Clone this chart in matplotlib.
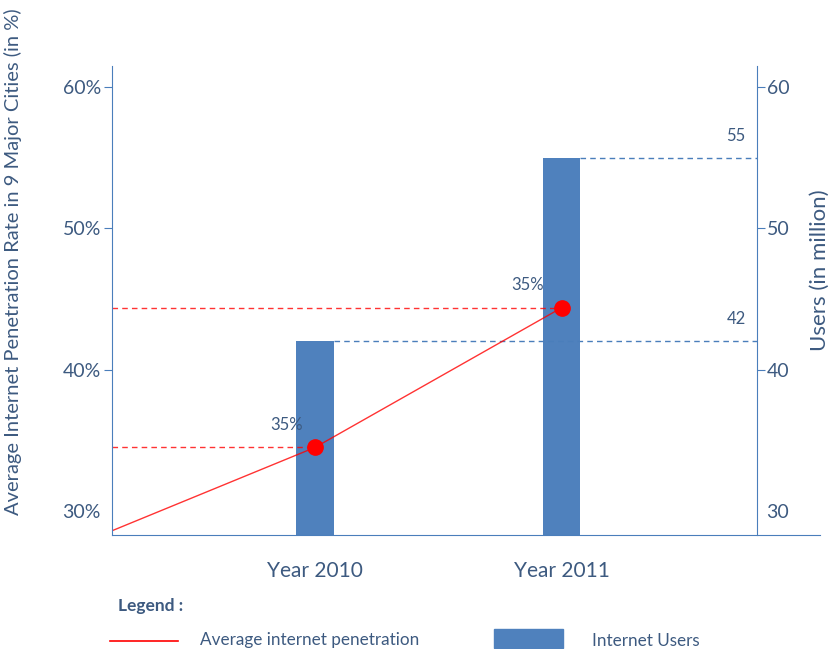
import numpy as np
import matplotlib.pyplot as plt
from matplotlib.lines import Line2D
from matplotlib.patches import Rectangle

plt.rcParams['font.family'] = ['Lato', 'DejaVu Sans']

# data
years = ["Year 2010", "Year 2011"]
year_x = [0, 1]
users = [42, 55]                      # internet users, millions
user_labels = ["42", "55"]
line_x = [-0.822, 0, 1]               # line starts at the left axis
penetration = [28.6, 34.5, 44.4]      # average penetration, %
point_labels = ["35%", "35%"]
pct_ticks = [30, 40, 50, 60]
user_ticks = [30, 40, 50, 60]

txt_col = "#3d5a80"
ax_col = "#4a7ebb"
bar_col = "#4f81bd"
red = "#ff0000"

fig = plt.figure(figsize=(8.34, 6.49), dpi=100)
ax = fig.add_axes([112/834, 1-535/649, (820-112)/834, (535-66)/649])
ax2 = ax.twinx()

xmin, xmax = -0.822, 2.045
right_x = 1.789
ylo, yhi = 28.3, 61.5
bar_w = 0.15

ax.set_xlim(xmin, xmax)
ax.set_ylim(ylo, yhi)
ax2.set_ylim(ylo, yhi)

# bars on the right (users) axis
ax2.bar(year_x, users, width=bar_w, color=bar_col, zorder=2)
ax2.hlines(users, [x + bar_w/2 for x in year_x], right_x, colors=ax_col,
           linestyles=(0, (4, 3)), lw=1.0)
for x, v, s in zip(year_x, users, user_labels):
    ax2.annotate(s, (right_x, v), xytext=(-8, 16), textcoords="offset points",
                 ha="right", va="center", fontsize=12, color=txt_col)

# penetration line on the left axis, drawn above the bars
ax.set_zorder(ax2.get_zorder() + 1)
ax.patch.set_visible(False)
ax.plot(line_x, penetration, color=red, lw=1.0, alpha=0.8)
ax.plot(line_x[1:], penetration[1:], "o", color=red, ms=11)
ax.hlines(penetration[1:], xmin, line_x[1:], colors=red, alpha=0.8,
          linestyles=(0, (4, 3)), lw=1.0)
for x, v, s, dx in zip(line_x[1:], penetration[1:], point_labels, [-9, -13]):
    ax.annotate(s, (x, v), xytext=(dx, 16), textcoords="offset points",
                ha="right", va="center", fontsize=12, color=txt_col)

# spines
for s in ["top", "right"]:
    ax.spines[s].set_visible(False)
ax.spines["left"].set_color(ax_col)
ax.spines["bottom"].set_color(ax_col)
for s in ["top", "left", "bottom"]:
    ax2.spines[s].set_visible(False)
ax2.spines["right"].set_position(("data", right_x))
ax2.spines["right"].set_color(ax_col)

# ticks
ax.set_yticks(pct_ticks)
ax.set_yticklabels([f"{t}%" for t in pct_ticks])
ax.tick_params(axis="y", direction="out", length=6, color=ax_col,
               labelcolor=txt_col, labelsize=14, pad=2)
ax.yaxis.get_major_ticks()[0].tick1line.set_visible(False)
ax2.set_yticks(user_ticks)
ax2.tick_params(axis="y", direction="out", length=6, color=ax_col,
                labelcolor=txt_col, labelsize=14, pad=1)
ax2.yaxis.get_major_ticks()[0].tick2line.set_visible(False)
ax.set_xticks(year_x)
ax.set_xticklabels(years)
ax.tick_params(axis="x", length=0, labelcolor=txt_col, labelsize=15, pad=19)

ax.set_ylabel("Average Internet Penetration Rate in 9 Major Cities (in %)",
              color=txt_col, fontsize=14.5)
ax.yaxis.set_label_coords(-90/708, 0.582)
ax2.set_ylabel("Users (in million)", color=txt_col, fontsize=16)
ax2.yaxis.set_label_coords(0.985, 0.565)

# legend underneath
fig.text(118/834, 1-606/649, "Legend :", fontsize=12.5, fontweight="bold",
         color=txt_col, va="center")
fig.add_artist(Line2D([110/834, 178/834], [1-641/649, 1-641/649], color=red, lw=1.2))
fig.text(200/834, 1-640/649, "Average internet penetration", fontsize=12.3,
         color=txt_col, va="center")
fig.add_artist(Rectangle((494/834, 1-648/649), 69/834, 19/649, color=bar_col))
fig.text(592/834, 1-641/649, "Internet Users", fontsize=12.3,
         color=txt_col, va="center")

plt.savefig("out.png", dpi=100)
